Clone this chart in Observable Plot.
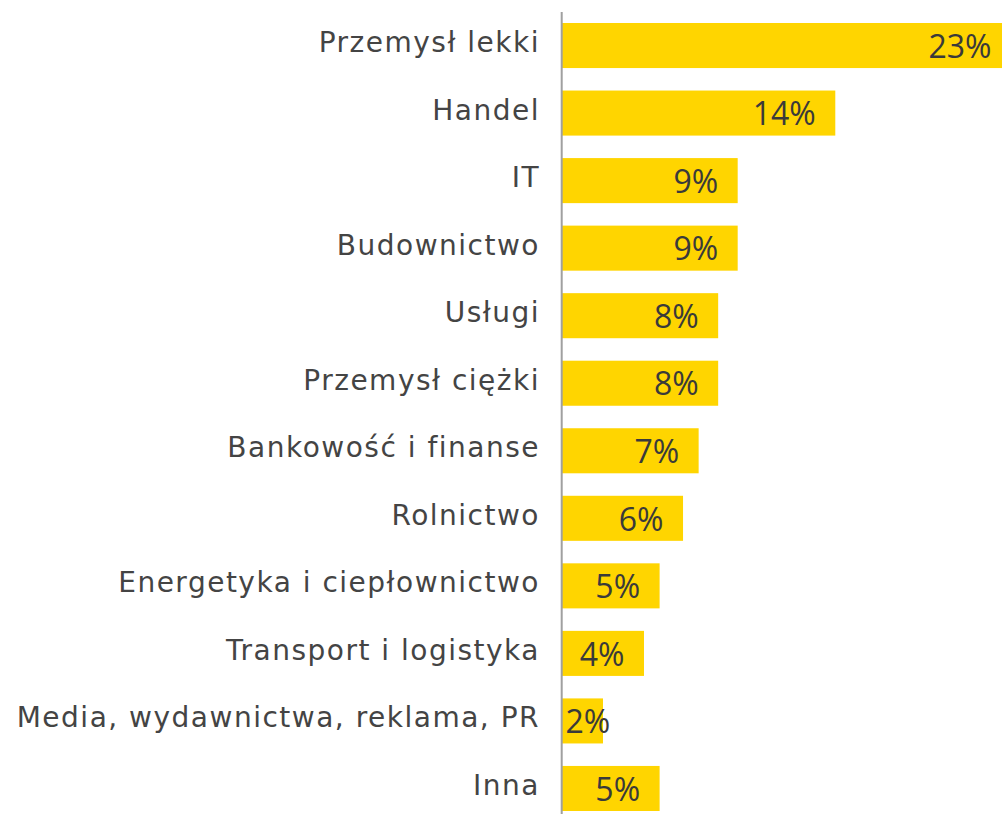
<!DOCTYPE html>
<html>
<head>
<meta charset="utf-8">
<script src="https://cdn.jsdelivr.net/npm/d3@7"></script>
<script src="https://cdn.jsdelivr.net/npm/@observablehq/plot@0.6"></script>
<style>
  html, body { margin: 0; padding: 0; background: #fff; overflow: hidden; }
  g[aria-label="y-axis tick label"] text { letter-spacing: 1.5px; }
</style>
</head>
<body>
<div id="chart"></div>
<script>
const categories = [
  "Przemysł lekki",
  "Handel",
  "IT",
  "Budownictwo",
  "Usługi",
  "Przemysł ciężki",
  "Bankowość i finanse",
  "Rolnictwo",
  "Energetyka i ciepłownictwo",
  "Transport i logistyka",
  "Media, wydawnictwa, reklama, PR",
  "Inna"
];
const values = [23, 14, 9, 9, 8, 8, 7, 6.2, 5, 4.2, 2.1, 5];
const labels = ["23%", "14%", "9%", "9%", "8%", "8%", "7%", "6%", "5%", "4%", "2%", "5%"];

const data = categories.map((c, i) => ({category: c, value: values[i], label: labels[i]}));

const chart = Plot.plot({
  width: 1002,
  height: 814,
  marginLeft: 562,
  marginRight: 0,
  marginTop: 23,
  marginBottom: 3,
  style: {fontFamily: "'Open Sans', sans-serif", background: "#fff"},
  x: {domain: [0, 22.54], axis: null},
  y: {domain: categories, paddingInner: 0.333, paddingOuter: 0, round: false, axis: null},
  marks: [
    Plot.barX(data, {x: "value", y: "category", fill: "#FFD500", clip: true}),
    Plot.ruleX([0], {stroke: "#a0a0a0", strokeWidth: 2, dx: -0.8, insetTop: -11, insetBottom: -3}),
    Plot.axisY({
      tickSize: 0,
      tickPadding: 22.5,
      fontSize: 28,
      fontFamily: "'DejaVu Sans', sans-serif",
      dy: -3,
      color: "#444",
      label: null
    }),
    Plot.text(data.filter(d => d.value >= 3), {
      x: "value", y: "category", text: "label",
      textAnchor: "end", dx: -20, dy: 1.5,
      fontSize: 32, fill: "#3a3a3a"
    }),
    Plot.text(data.filter(d => d.value < 3), {
      x: 0, y: "category", text: "label",
      textAnchor: "start", dx: 3, dy: 1.5,
      fontSize: 32, fill: "#3a3a3a"
    })
  ]
});
document.getElementById("chart").appendChild(chart);
</script>
</body>
</html>
